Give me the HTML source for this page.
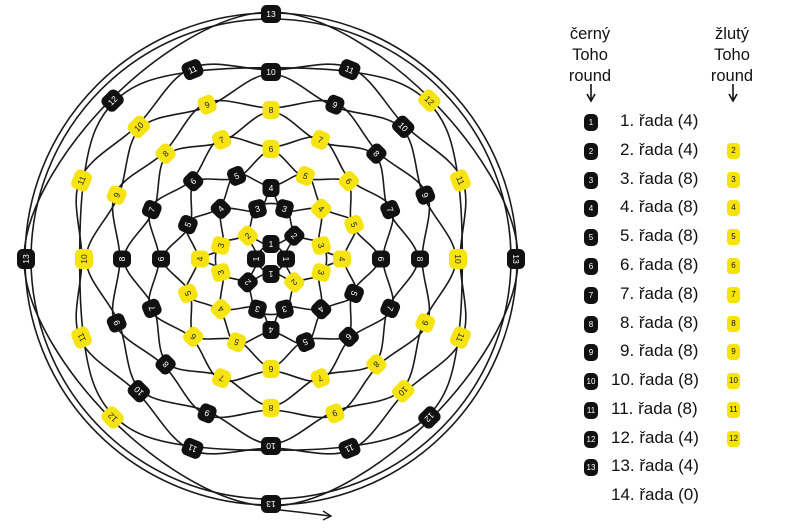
<!DOCTYPE html>
<html><head><meta charset="utf-8">
<style>
html,body{margin:0;padding:0;background:#fff;width:795px;height:528px;overflow:hidden;font-family:"Liberation Sans",sans-serif}
svg{position:absolute;left:0;top:0}
.lg{position:absolute;font-size:17px;color:#111;white-space:nowrap}
.hd{position:absolute;font-size:16.5px;text-align:center;line-height:21px;color:#111;width:90px}
.bi{position:absolute;width:14px;height:17px;border-radius:5px;background:#111;color:#fff;font-size:8px;text-align:center;line-height:17px}
.yi{position:absolute;width:13px;height:16px;border-radius:4px;background:#f5e400;color:#111;font-size:8px;text-align:center;line-height:16px}
</style></head><body>
<svg id="d" width="795" height="528" viewBox="0 0 795 528">
<g id="lines" fill="none" stroke="#1a1a1a" stroke-width="1.6"></g>
<path d="M271 509 C300 512 315 514 330 516" fill="none" stroke="#1a1a1a" stroke-width="1.6"/>
<path d="M323 511 L331 516 L323 520" fill="none" stroke="#1a1a1a" stroke-width="1.4"/>
<g id="beads" font-family="Liberation Sans, sans-serif" font-size="8.5" text-anchor="middle">
<g class="row"><text>1</text><text>1</text><text>1</text><text>1</text></g>
<g class="row"><text>2</text><text>2</text><text>2</text><text>2</text></g>
<g class="row"><text>3</text><text>3</text><text>3</text><text>3</text><text>3</text><text>3</text><text>3</text><text>3</text></g>
<g class="row"><text>4</text><text>4</text><text>4</text><text>4</text><text>4</text><text>4</text><text>4</text><text>4</text></g>
<g class="row"><text>5</text><text>5</text><text>5</text><text>5</text><text>5</text><text>5</text><text>5</text><text>5</text></g>
<g class="row"><text>6</text><text>6</text><text>6</text><text>6</text><text>6</text><text>6</text><text>6</text><text>6</text></g>
<g class="row"><text>7</text><text>7</text><text>7</text><text>7</text><text>7</text><text>7</text><text>7</text><text>7</text></g>
<g class="row"><text>8</text><text>8</text><text>8</text><text>8</text><text>8</text><text>8</text><text>8</text><text>8</text></g>
<g class="row"><text>9</text><text>9</text><text>9</text><text>9</text><text>9</text><text>9</text><text>9</text><text>9</text></g>
<g class="row"><text>10</text><text>10</text><text>10</text><text>10</text><text>10</text><text>10</text><text>10</text><text>10</text></g>
<g class="row"><text>11</text><text>11</text><text>11</text><text>11</text><text>11</text><text>11</text><text>11</text><text>11</text></g>
<g class="row"><text>12</text><text>12</text><text>12</text><text>12</text></g>
<g class="row"><text>13</text><text>13</text><text>13</text><text>13</text></g>
</g>
</svg>

<div class="hd" style="left:545px;top:24px">černý<br>Toho<br>round</div>
<div class="hd" style="left:687px;top:24px">žlutý<br>Toho<br>round</div>
<svg width="795" height="528" style="pointer-events:none">
<g stroke="#111" stroke-width="1.6" fill="none">
<line x1="591" y1="84" x2="591" y2="100"/><path d="M587 94 L591 101 L595 94"/>
<line x1="733" y1="84" x2="733" y2="100"/><path d="M729 94 L733 101 L737 94"/>
</g></svg>

<div class="bi" style="left:584px;top:114px">1</div><div class="lg" style="left:620px;top:111px">1. řada (4)</div>
<div class="bi" style="left:584px;top:143px">2</div><div class="lg" style="left:620px;top:140px">2. řada (4)</div><div class="yi" style="left:727px;top:143px">2</div>
<div class="bi" style="left:584px;top:172px">3</div><div class="lg" style="left:620px;top:169px">3. řada (8)</div><div class="yi" style="left:727px;top:172px">3</div>
<div class="bi" style="left:584px;top:200px">4</div><div class="lg" style="left:620px;top:197px">4. řada (8)</div><div class="yi" style="left:727px;top:200px">4</div>
<div class="bi" style="left:584px;top:229px">5</div><div class="lg" style="left:620px;top:226px">5. řada (8)</div><div class="yi" style="left:727px;top:229px">5</div>
<div class="bi" style="left:584px;top:258px">6</div><div class="lg" style="left:620px;top:255px">6. řada (8)</div><div class="yi" style="left:727px;top:258px">6</div>
<div class="bi" style="left:584px;top:287px">7</div><div class="lg" style="left:620px;top:284px">7. řada (8)</div><div class="yi" style="left:727px;top:287px">7</div>
<div class="bi" style="left:584px;top:316px">8</div><div class="lg" style="left:620px;top:313px">8. řada (8)</div><div class="yi" style="left:727px;top:316px">8</div>
<div class="bi" style="left:584px;top:344px">9</div><div class="lg" style="left:620px;top:341px">9. řada (8)</div><div class="yi" style="left:727px;top:344px">9</div>
<div class="bi" style="left:584px;top:373px">10</div><div class="lg" style="left:611px;top:370px">10. řada (8)</div><div class="yi" style="left:727px;top:373px">10</div>
<div class="bi" style="left:584px;top:402px">11</div><div class="lg" style="left:611px;top:399px">11. řada (8)</div><div class="yi" style="left:727px;top:402px">11</div>
<div class="bi" style="left:584px;top:431px">12</div><div class="lg" style="left:611px;top:428px">12. řada (4)</div><div class="yi" style="left:727px;top:431px">12</div>
<div class="bi" style="left:584px;top:459px">13</div><div class="lg" style="left:611px;top:456px">13. řada (4)</div>
<div class="lg" style="left:611px;top:485px">14. řada (0)</div>

<script>
(function(){
var cx=271,cy=259,NS="http://www.w3.org/2000/svg";
function m(a,o){var r=[];for(var k=0;k<a;k++)r.push(o+k*360/a);return r;}
var rows=[
 {r:15,a:m(4,0),y:[]},
 {r:33,a:m(4,45),y:[135,315]},
 {r:52,a:[15,75,105,165,195,255,285,345],y:[165,195,345,15]},
 {r:71,a:m(8,0),y:[0,45,180,225]},
 {r:90,a:m(8,22.5),y:[67.5,22.5,202.5,247.5]},
 {r:110,a:m(8,0),y:[90,45,270,225]},
 {r:129,a:m(8,22.5),y:[112.5,67.5,247.5,292.5]},
 {r:149,a:m(8,0),y:[90,135,270,315]},
 {r:167,a:m(8,22.5),y:[112.5,157.5,337.5,292.5]},
 {r:187,a:m(8,0),y:[135,180,0,315]},
 {r:205,a:m(8,22.5),y:[157.5,22.5,202.5,337.5]},
 {r:224,a:m(4,45),y:[45,225]},
 {r:245,a:m(4,0),y:[]}
];
function pt(r,a){var t=a*Math.PI/180;return [cx+r*Math.cos(t),cy-r*Math.sin(t)];}
function isY(row,a){for(var i=0;i<row.y.length;i++){if(Math.abs(((row.y[i]-a)%360+360)%360)<0.1)return true;}return false;}
var L=document.getElementById("lines");
function smooth(P){var n=P.length,d="M"+P[0][0].toFixed(1)+" "+P[0][1].toFixed(1);
 for(var i=0;i<n;i++){var p0=P[(i-1+n)%n],p1=P[i],p2=P[(i+1)%n],p3=P[(i+2)%n];
  var c1=[p1[0]+(p2[0]-p0[0])/6,p1[1]+(p2[1]-p0[1])/6],c2=[p2[0]-(p3[0]-p1[0])/6,p2[1]-(p3[1]-p1[1])/6];
  d+=" C"+c1[0].toFixed(1)+" "+c1[1].toFixed(1)+" "+c2[0].toFixed(1)+" "+c2[1].toFixed(1)+" "+p2[0].toFixed(1)+" "+p2[1].toFixed(1);}
 return d+"Z";}
function addPath(d){var p=document.createElementNS(NS,"path");p.setAttribute("d",d);L.appendChild(p);}
addPath(smooth(rows[0].a.map(function(a){return pt(rows[0].r,a);})));
for(var n=0;n<12;n++){
 var A=[];rows[n].a.forEach(function(a){A.push([a,rows[n].r]);});rows[n+1].a.forEach(function(a){A.push([a,rows[n+1].r]);});
 A.sort(function(u,v){return u[0]-v[0];});
 var off=(n%2)?2:-2;
 addPath(smooth(A.map(function(q){return pt(q[1]+off,q[0]);})));
}
var c=document.createElementNS(NS,"circle");c.setAttribute("cx",cx);c.setAttribute("cy",cy);c.setAttribute("r",246);L.appendChild(c);
c=document.createElementNS(NS,"circle");c.setAttribute("cx",cx);c.setAttribute("cy",cy);c.setAttribute("r",240);L.appendChild(c);
var G=document.querySelectorAll("#beads .row");
for(var i=0;i<G.length;i++){
 var row=rows[i],ts=G[i].querySelectorAll("text");
 for(var j=0;j<ts.length;j++){
  var a=row.a[j],p=pt(row.r,a),y=isY(row,a),t=ts[j];
  var g=document.createElementNS(NS,"g");
  g.setAttribute("transform","translate("+p[0].toFixed(1)+","+p[1].toFixed(1)+") rotate("+(90-a)+")");
  var w=t.textContent.length>1?20:17;
  var rc=document.createElementNS(NS,"rect");
  rc.setAttribute("x",-w/2);rc.setAttribute("y",-9);rc.setAttribute("width",w);rc.setAttribute("height",18);rc.setAttribute("rx",5.5);
  rc.setAttribute("fill",y?"#f6e312":"#111");
  G[i].insertBefore(g,t);g.appendChild(rc);g.appendChild(t);
  t.setAttribute("y","3");t.setAttribute("fill",y?"#222":"#fff");
 }
}
})();
</script>
</body></html>
